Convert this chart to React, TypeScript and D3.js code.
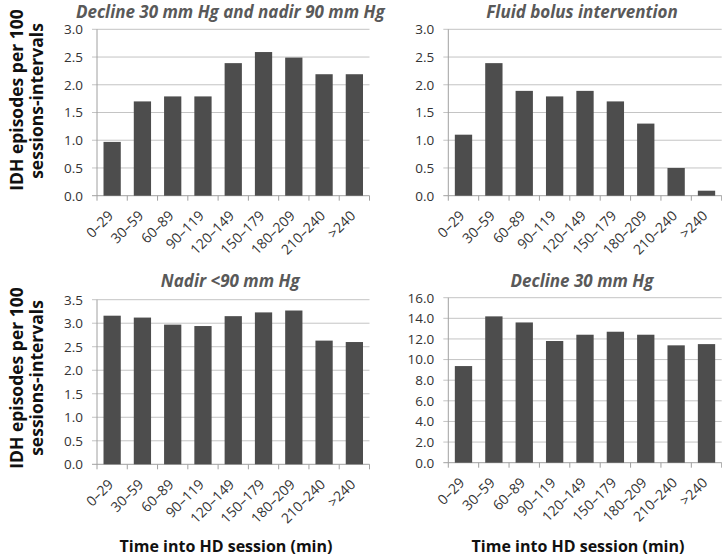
import React from "react";
import * as d3 from "d3";

const categories = ["0–29", "30–59", "60–89", "90–119", "120–149", "150–179", "180–209", "210–240", ">240"];

const declineAndNadir = [0.97, 1.7, 1.79, 1.79, 2.39, 2.59, 2.49, 2.19, 2.19];
const fluidBolus = [1.1, 2.39, 1.89, 1.79, 1.89, 1.7, 1.3, 0.5, 0.09];
const nadirBelow90 = [3.16, 3.12, 2.97, 2.94, 3.15, 3.23, 3.27, 2.63, 2.6];
const decline30 = [9.37, 14.19, 13.6, 11.8, 12.41, 12.7, 12.41, 11.38, 11.5];

const titles = [
  "Decline 30 mm Hg and nadir 90 mm Hg",
  "Fluid bolus intervention",
  "Nadir <90 mm Hg",
  "Decline 30 mm Hg",
];
const yMaxes = [3.0, 3.0, 3.5, 16.0];
const yStepsArr = [0.5, 0.5, 0.5, 2.0];
const yAxisLines = ["IDH episodes per 100", "sessions-intervals"];
const xAxisTitle = "Time into HD session (min)";

const FONT = "'Open Sans', 'Noto Sans', sans-serif";

type PanelProps = {
  values: number[];
  title: string;
  yMax: number;
  yStep: number;
  x0: number;
  x1: number;
  yTop: number;
  yBottom: number;
  titleY: number;
};

function Panel({ values, title, yMax, yStep, x0, x1, yTop, yBottom, titleY }: PanelProps) {
  const x = d3
    .scaleBand<string>()
    .domain(categories)
    .range([x0, x1])
    .paddingInner(0.43)
    .paddingOuter(0.215);
  const y = d3.scaleLinear().domain([0, yMax]).range([yBottom, yTop]);
  const ticks = d3.range(0, yMax + yStep / 2, yStep);
  const step = x.step();
  const bounds = d3.range(0, categories.length + 1).map((i) => x0 + i * step);
  const fmt = d3.format(".1f");
  return (
    <g>
      <text
        x={(x0 + x1) / 2 - 3}
        y={titleY}
        textAnchor="middle"
        fontFamily={FONT}
        fontWeight="bold"
        fontStyle="italic"
        fontSize={17}
        fill="#595959"
      >
        {title}
      </text>
      {ticks.map((t) => (
        <g key={t}>
          <line x1={x0 - 5} x2={x1} y1={y(t)} y2={y(t)} stroke={t === 0 ? "#a0a0a0" : "#c4c4c4"} strokeWidth={1} />
          <text x={x0 - 14} y={y(t)} dy="0.36em" textAnchor="end" fontFamily={FONT} fontSize={13.5} fill="#333">
            {fmt(t)}
          </text>
        </g>
      ))}
      <line x1={x0} x2={x0} y1={yTop} y2={yBottom} stroke="#a0a0a0" strokeWidth={1} />
      {bounds.map((b, i) => (
        <line key={i} x1={b} x2={b} y1={yBottom} y2={yBottom + 5} stroke="#a0a0a0" strokeWidth={1} />
      ))}
      {values.map((v, i) => (
        <rect
          key={i}
          x={x(categories[i])!}
          width={x.bandwidth()}
          y={y(v)}
          height={yBottom - y(v)}
          fill="#4d4d4d"
        />
      ))}
      {categories.map((c) => {
        const cx = x(c)! + x.bandwidth() / 2 + 2;
        const cy = yBottom + 21;
        return (
          <text
            key={c}
            x={cx}
            y={cy}
            transform={`rotate(-45 ${cx} ${cy})`}
            textAnchor="end"
            fontFamily={FONT}
            fontSize={14}
            fill="#333"
          >
            {c}
          </text>
        );
      })}
    </g>
  );
}

function YTitle({ cy1, cy2 }: { cy1: number; cy2: number }) {
  return (
    <g fontFamily={FONT} fontWeight="bold" fontSize={17.5} fill="#111">
      <text x={17} y={cy1} transform={`rotate(-90 17 ${cy1})`} textAnchor="middle" dy="0.35em">
        {yAxisLines[0]}
      </text>
      <text x={37} y={cy2} transform={`rotate(-90 37 ${cy2})`} textAnchor="middle" dy="0.35em">
        {yAxisLines[1]}
      </text>
    </g>
  );
}

export default function App() {
  const left = { x0: 97, x1: 369.5 };
  const right = { x0: 448.3, x1: 721.7 };
  return (
    <svg width={722} height={559} style={{ position: "absolute", left: 0, top: 0, background: "#fff" }}>
      <Panel values={declineAndNadir} title={titles[0]} yMax={yMaxes[0]} yStep={yStepsArr[0]} {...left} yTop={29.3} yBottom={195.7} titleY={18} />
      <Panel values={fluidBolus} title={titles[1]} yMax={yMaxes[1]} yStep={yStepsArr[1]} {...right} yTop={29.3} yBottom={195.7} titleY={18} />
      <Panel values={nadirBelow90} title={titles[2]} yMax={yMaxes[2]} yStep={yStepsArr[2]} {...left} yTop={299.7} yBottom={464.3} titleY={287} />
      <Panel values={decline30} title={titles[3]} yMax={yMaxes[3]} yStep={yStepsArr[3]} {...right} yTop={297.7} yBottom={462.7} titleY={287} />
      <YTitle cy1={100} cy2={101} />
      <YTitle cy1={378} cy2={378} />
      <g fontFamily={FONT} fontWeight="bold" fontSize={16} fill="#111" textAnchor="middle">
        <text x={226} y={552}>{xAxisTitle}</text>
        <text x={578} y={552}>{xAxisTitle}</text>
      </g>
    </svg>
  );
}
